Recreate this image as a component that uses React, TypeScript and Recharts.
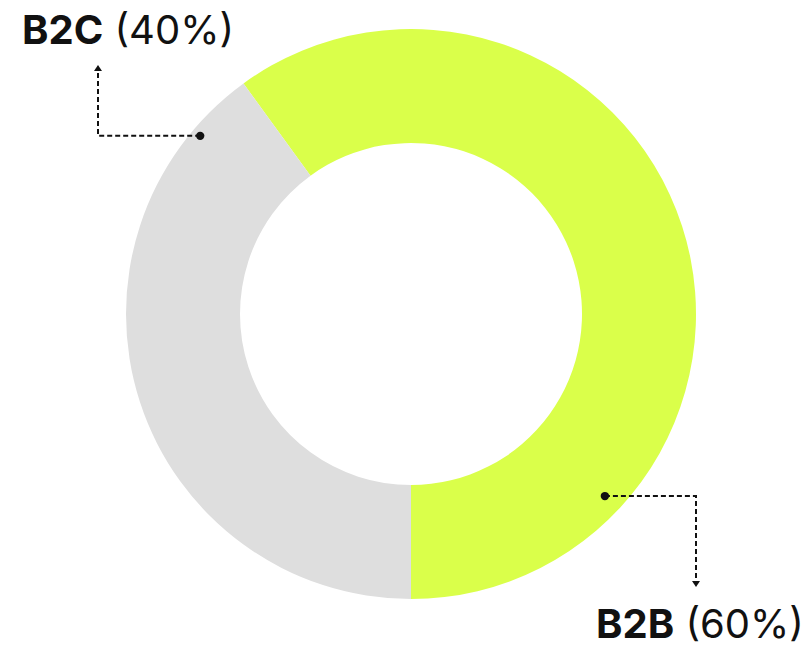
import React from "react";
import { PieChart, Pie, Cell } from "recharts";

const categories = ["B2B", "B2C"];
const shares = [60, 40];
const colors = ["#DAFF4A", "#DEDEDE"];

const data = categories.map((name, i) => ({ name, value: shares[i] }));

// annotation layout per slice: anchor angle (deg), radial offset from outer edge, elbow x, arrow tip y, text x, text baseline y
const annotations = [
  { angle: -43.2, inset: 19, elbowX: 696, tipY: 587, textX: 596, textY: 638, dir: 1 },
  { angle: 139.8, inset: 9, elbowX: 98, tipY: 65, textX: 22, textY: 44, dir: -1 },
];

const RAD = Math.PI / 180;

const renderLabel = (props: any) => {
  const { cx, cy, outerRadius, index, name, percent } = props;
  const a = annotations[index];
  if (!a) return null;
  const r = outerRadius - a.inset;
  const x = cx + r * Math.cos(a.angle * RAD);
  const y = cy - r * Math.sin(a.angle * RAD);
  const d = a.dir; // 1 = arrow points down, -1 = up
  const tipBase = a.tipY - d * 6;
  return (
    <g key={`ann-${index}`}>
      <path
        d={`M${x},${y} H${a.elbowX} V${tipBase}`}
        fill="none"
        stroke="#111"
        strokeWidth={2}
        strokeDasharray="5 3"
      />
      <circle cx={x} cy={y} r={4.2} fill="#111" />
      <polygon
        points={`${a.elbowX - 4},${tipBase} ${a.elbowX + 4},${tipBase} ${a.elbowX},${a.tipY}`}
        fill="#111"
      />
      <text
        x={a.textX}
        y={a.textY}
        fontFamily="Inter, 'Noto Sans', sans-serif"
        fontSize={40}
        fill="#111"
      >
        <tspan fontWeight={700}>{name}</tspan>
        <tspan fontWeight={400}>{` (${Math.round(percent * 100)}%)`}</tspan>
      </text>
    </g>
  );
};

export default function App() {
  return (
    <div style={{ position: "absolute", left: 0, top: 0, width: 803, height: 649, background: "#fff" }}>
      <PieChart width={803} height={649} margin={{ top: 0, right: 0, bottom: 0, left: 0 }}>
        <Pie
          data={data}
          dataKey="value"
          nameKey="name"
          cx={411}
          cy={314}
          innerRadius={171}
          outerRadius={285}
          startAngle={-90}
          endAngle={270}
          stroke="none"
          label={renderLabel}
          labelLine={false}
          isAnimationActive={false}
        >
          {data.map((d, i) => (
            <Cell key={d.name} fill={colors[i]} />
          ))}
        </Pie>
      </PieChart>
    </div>
  );
}
